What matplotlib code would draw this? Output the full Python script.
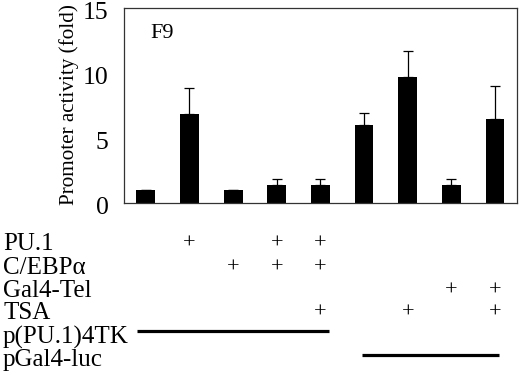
import numpy as np
from matplotlib import pyplot as plt
from matplotlib import transforms

plt.rcParams['font.family'] = ['Liberation Serif', 'DejaVu Serif']

# bar heights (fold) and upper error bars
values = [1.0, 6.9, 1.0, 1.37, 1.37, 6.0, 9.7, 1.37, 6.45]
err_up = [0.0, 2.0, 0.0, 0.5, 0.5, 0.95, 2.0, 0.5, 2.6]

row_labels = ["PU.1", "C/EBP\u03b1", "Gal4-Tel", "TSA", "p(PU.1)4TK", "pGal4-luc"]
# which lanes get a "+" for each condition row
plus_rows = {
    "PU.1": [1, 3, 4],
    "C/EBP\u03b1": [2, 3, 4],
    "Gal4-Tel": [7, 8],
    "TSA": [4, 6, 8],
}
# reporter lines: lane span
reporter_spans = {
    "p(PU.1)4TK": (-0.2, 4.2),
    "pGal4-luc": (4.95, 8.1),
}

fig = plt.figure(figsize=(5.2, 3.75), dpi=100)
ax = fig.add_axes([0.2385, 0.458, 0.7555, 0.52])

x = np.arange(len(values))
ax.bar(x, values, width=0.43, color="black")
ax.errorbar(x, values, yerr=[np.zeros(len(x)), err_up], fmt="none",
            ecolor="black", elinewidth=0.9, capsize=3.5, capthick=0.9)

ax.set_xlim(-0.5, 8.5)
ax.set_ylim(0, 15)
ax.set_yticks([0, 5, 10, 15])
ax.set_xticks([])
ax.tick_params(axis="y", length=0, pad=11, labelsize=18.5)
# tick labels sit a little below their value in the reference
shift = transforms.ScaledTranslation(0, -2 / 100, fig.dpi_scale_trans)
for lab in ax.get_yticklabels():
    lab.set_transform(lab.get_transform() + shift)
ax.set_ylabel("Promoter activity (fold)", fontsize=15.2)
ax.yaxis.set_label_coords(-0.115, 0.505)
for s in ax.spines.values():
    s.set_linewidth(0.9)
    s.set_color("#333333")
ax.text(0.066, 0.87, "F9", transform=ax.transAxes, fontsize=16,
        va="center", ha="left")

# table under the chart
trans = transforms.blended_transform_factory(ax.transData, fig.transFigure)
row_y = [244, 268, 291, 313, 337, 360]
for label, yp in zip(row_labels, row_y):
    yf = 1 - yp / 375
    fig.text(3 / 520, yf, label, fontsize=18, va="center", ha="left")
    if label in plus_rows:
        for lane in plus_rows[label]:
            ax.text(lane, yf, "+", transform=trans, fontsize=16,
                    ha="center", va="center", clip_on=False)

line_y = {"p(PU.1)4TK": 331, "pGal4-luc": 355}
for label, (x0, x1) in reporter_spans.items():
    yf = 1 - line_y[label] / 375
    ax.plot([x0, x1], [yf, yf], color="black", lw=2.3, transform=trans,
            clip_on=False, solid_capstyle="butt")

fig.savefig("out.png", dpi=100)
